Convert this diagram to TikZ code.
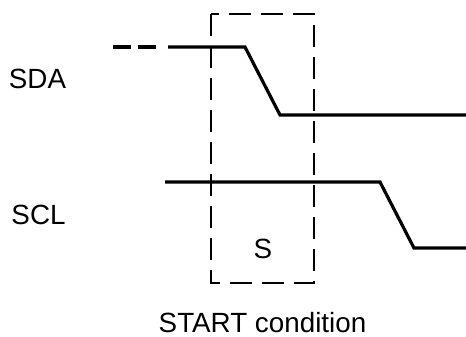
\documentclass[tikz,border=0pt]{standalone}
\usepackage{fontspec}
\setmainfont{Liberation Sans}

\begin{document}
\begin{tikzpicture}[
    x=0.5pt, y=-0.5pt,
    line width=1.6pt,
    font=\fontsize{13.9}{16}\selectfont
]
    \useasboundingbox (0,0) rectangle (466,337);

    % Start window
    \draw[line width=1pt, dash pattern=on 11pt off 5pt] (211,14) rectangle (314,283);
    \node (s) at (263,248.5) {S};
    \node (start) at (262.5,323) {START condition};

    % Signal names
    \node (sda) at (37.5,78.5) {SDA};
    \node (scl) at (38.5,214.5) {SCL};

    % SDA line
    \coordinate (sdaA) at (113,47);
    \coordinate (sdaA2) at (157,47);
    \coordinate (sdaB) at (168,47);
    \coordinate (sdaC) at (245,47);
    \coordinate (sdaD) at (280,115);
    \coordinate (sdaE) at (466,115);
    \draw[line width=2pt, dash pattern=on 9pt off 3.5pt] (sdaA) -- (sdaA2);
    \draw (sdaB) -- (sdaC) -- (sdaD) -- (sdaE);

    % SCL line
    \coordinate (sclA) at (165,182);
    \coordinate (sclB) at (380,182);
    \coordinate (sclC) at (414,248);
    \coordinate (sclD) at (466,248);
    \draw (sclA) -- (sclB) -- (sclC) -- (sclD);

\end{tikzpicture}
\end{document}
